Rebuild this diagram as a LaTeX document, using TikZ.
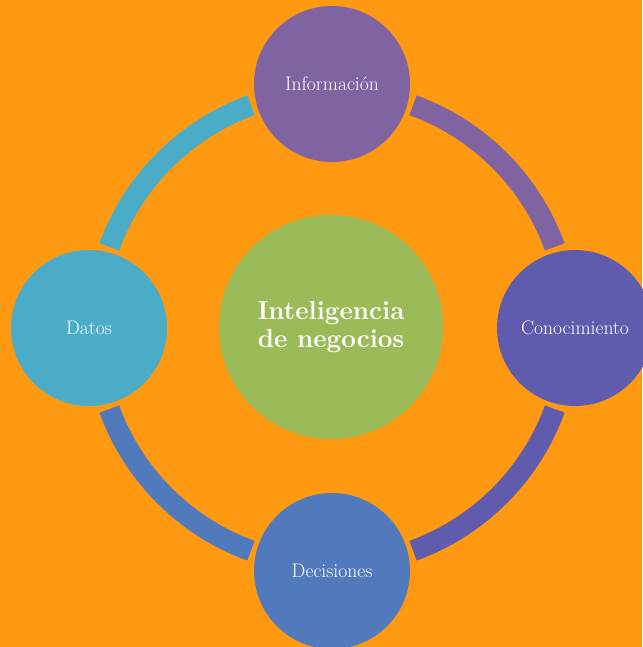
\documentclass[tikz,border=0pt]{standalone}

\definecolor{bg}{HTML}{FF9912}
\definecolor{cinf}{HTML}{8064A2}
\definecolor{ccon}{HTML}{5F5BAD}
\definecolor{cdec}{HTML}{517ABD}
\definecolor{cdat}{HTML}{4AACC6}
\definecolor{cbi}{HTML}{9BBB59}

\begin{document}
\begin{tikzpicture}
  [x=1pt,y=1pt,every node/.style={circle, inner sep=0pt, minimum size=156pt, text=white, font=\fontsize{19.6}{23}\selectfont},
   band/.style={line width=21pt}]
  \useasboundingbox (0,0) rectangle (642,647);
  \fill[bg] (0,0) rectangle (642,647);
  \coordinate (o) at (332,319);

  % ring segments between the outer circles
  \foreach \a/\col in {20/cinf, 110/cdat, 200/cdec, 290/ccon}
    \draw[band, draw=\col] (o) ++(\a:237) arc[start angle=\a, delta angle=50, radius=237];

  \node[fill=cinf] (n1) at (332,563) {Información};
  \node[fill=ccon] (n2) at (575,319) {Conocimiento};
  \node[fill=cdec] (n3) at (332,76) {Decisiones};
  \node[fill=cdat] (n4) at (89,319) {Datos};

  \node[fill=cbi, minimum size=224pt, align=center, font=\fontsize{26}{28.5}\bfseries] (n0) at (331,320) {Inteligencia\\de negocios};
\end{tikzpicture}
\end{document}
